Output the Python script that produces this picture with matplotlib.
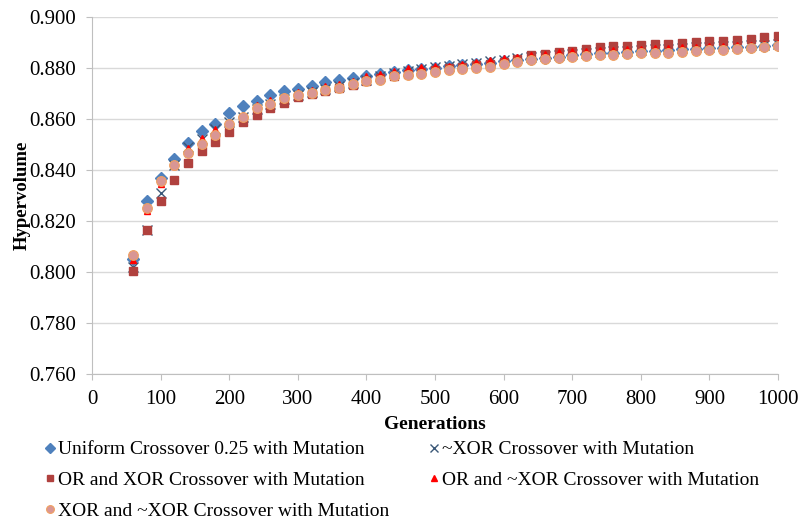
import matplotlib
matplotlib.use("Agg")
import matplotlib.pyplot as plt
from matplotlib.ticker import MultipleLocator, FormatStrFormatter

plt.rcParams['font.family'] = ['Liberation Serif', 'DejaVu Serif']

generations = list(range(60, 1001, 20))

uniform = [0.8050, 0.8280, 0.8367, 0.8443, 0.8508, 0.8553, 0.8582, 0.8625, 0.8651, 0.8670,
           0.8696, 0.8709, 0.8718, 0.8731, 0.8745, 0.8755, 0.8762, 0.8770, 0.8778, 0.8785,
           0.8792, 0.8797, 0.8802, 0.8808, 0.8813, 0.8818, 0.8822, 0.8826, 0.8831, 0.8835,
           0.8840, 0.8845, 0.8850, 0.8855, 0.8858, 0.8861, 0.8864, 0.8866, 0.8869, 0.8871,
           0.8874, 0.8876, 0.8878, 0.8880, 0.8882, 0.8884, 0.8887, 0.8892]

not_xor = [0.8020, 0.8164, 0.8309, 0.8420, 0.8490, 0.8520, 0.8560, 0.8590, 0.8610, 0.8640,
           0.8660, 0.8680, 0.8695, 0.8705, 0.8720, 0.8728, 0.8740, 0.8755, 0.8768, 0.8780,
           0.8790, 0.8798, 0.8805, 0.8810, 0.8818, 0.8820, 0.8828, 0.8833, 0.8838, 0.8843,
           0.8848, 0.8853, 0.8857, 0.8860, 0.8863, 0.8866, 0.8869, 0.8872, 0.8874, 0.8877,
           0.8879, 0.8881, 0.8883, 0.8885, 0.8887, 0.8889, 0.8892, 0.8895]

or_xor = [0.8004, 0.8164, 0.8278, 0.8361, 0.8428, 0.8475, 0.8511, 0.8549, 0.8588, 0.8615,
          0.8645, 0.8663, 0.8685, 0.8698, 0.8712, 0.8722, 0.8735, 0.8750, 0.8760, 0.8770,
          0.8778, 0.8786, 0.8792, 0.8799, 0.8805, 0.8812, 0.8818, 0.8825, 0.8835, 0.8850,
          0.8856, 0.8862, 0.8868, 0.8875, 0.8884, 0.8886, 0.8888, 0.8890, 0.8893, 0.8896,
          0.8900, 0.8902, 0.8905, 0.8908, 0.8911, 0.8915, 0.8921, 0.8925]

or_not_xor = [0.8046, 0.8240, 0.8345, 0.8415, 0.8488, 0.8525, 0.8560, 0.8590, 0.8615, 0.8655,
              0.8675, 0.8690, 0.8705, 0.8715, 0.8728, 0.8738, 0.8750, 0.8768, 0.8777, 0.8787,
              0.8800, 0.8806, 0.8808, 0.8810, 0.8816, 0.8823, 0.8830, 0.8839, 0.8845, 0.8852,
              0.8857, 0.8862, 0.8866, 0.8869, 0.8870, 0.8872, 0.8874, 0.8876, 0.8878, 0.8880,
              0.8882, 0.8884, 0.8886, 0.8888, 0.8890, 0.8892, 0.8895, 0.8898]

xor_not_xor = [0.8065, 0.8252, 0.8358, 0.8420, 0.8465, 0.8504, 0.8537, 0.8582, 0.8609, 0.8642,
               0.8660, 0.8683, 0.8696, 0.8703, 0.8716, 0.8722, 0.8738, 0.8748, 0.8755, 0.8768,
               0.8772, 0.8778, 0.8784, 0.8791, 0.8795, 0.8800, 0.8806, 0.8817, 0.8823, 0.8830,
               0.8834, 0.8839, 0.8843, 0.8847, 0.8850, 0.8852, 0.8856, 0.8858, 0.8860, 0.8861,
               0.8865, 0.8869, 0.8871, 0.8873, 0.8875, 0.8878, 0.8882, 0.8888]

labels = ["Uniform Crossover 0.25 with Mutation",
          "~XOR Crossover with Mutation",
          "OR and XOR Crossover with Mutation",
          "OR and ~XOR Crossover with Mutation",
          "XOR and ~XOR Crossover with Mutation"]

fig = plt.figure(figsize=(7.98, 5.2), dpi=100)
ax = fig.add_axes([0.1153, 0.281, 0.8597, 0.686])

h_uni, = ax.plot(generations, uniform, linestyle='none', marker='D', markersize=6.5,
                 color='#4F81BD', markeredgecolor='#4F81BD', label=labels[0], zorder=3)
h_nx, = ax.plot(generations, not_xor, linestyle='none', marker='x', markersize=7,
                markeredgewidth=1.0, color='#3B5878', label=labels[1], zorder=4)
h_ox, = ax.plot(generations, or_xor, linestyle='none', marker='s', markersize=5.5,
                color='#B0413E', markeredgecolor='#B0413E', label=labels[2], zorder=5)
h_onx, = ax.plot(generations, or_not_xor, linestyle='none', marker='^', markersize=5,
                 color='#FF0000', markeredgecolor='#FF0000', label=labels[3], zorder=6)
h_xnx, = ax.plot(generations, xor_not_xor, linestyle='none', marker='o', markersize=7,
                 color='#D99694', markeredgecolor='#F0A060', markeredgewidth=0.8,
                 label=labels[4], zorder=7)

ax.set_xlim(0, 1000)
ax.set_ylim(0.760, 0.900)
ax.xaxis.set_major_locator(MultipleLocator(100))
ax.yaxis.set_major_locator(MultipleLocator(0.02))
ax.yaxis.set_major_formatter(FormatStrFormatter('%.3f'))
ax.grid(axis='y', color='#D9D9D9', linewidth=1.0, zorder=0)
ax.set_axisbelow(True)
for s in ['top', 'right']:
    ax.spines[s].set_visible(False)
for s in ['left', 'bottom']:
    ax.spines[s].set_color('#BFBFBF')
ax.tick_params(axis='both', colors='#BFBFBF', labelcolor='black', labelsize=15,
               length=4.3, direction='out')
ax.tick_params(axis='y', pad=7)
ax.tick_params(axis='x', pad=7.3)
ax.set_ylabel('Hypervolume', fontsize=13.5, fontweight='bold', labelpad=-1)
ax.set_xlabel('Generations', fontsize=14, fontweight='bold', labelpad=5.3)

handles = [h_uni, h_ox, h_xnx, h_nx, h_onx]
leg = fig.legend(handles, [h.get_label() for h in handles], ncol=2,
                 loc='upper left', bbox_to_anchor=(0.034, 0.186),
                 frameon=False, fontsize=14, handlelength=0.6, handletextpad=0.1,
                 columnspacing=2.0, labelspacing=0.68, markerscale=0.8)

fig.savefig('out.png', dpi=100)
